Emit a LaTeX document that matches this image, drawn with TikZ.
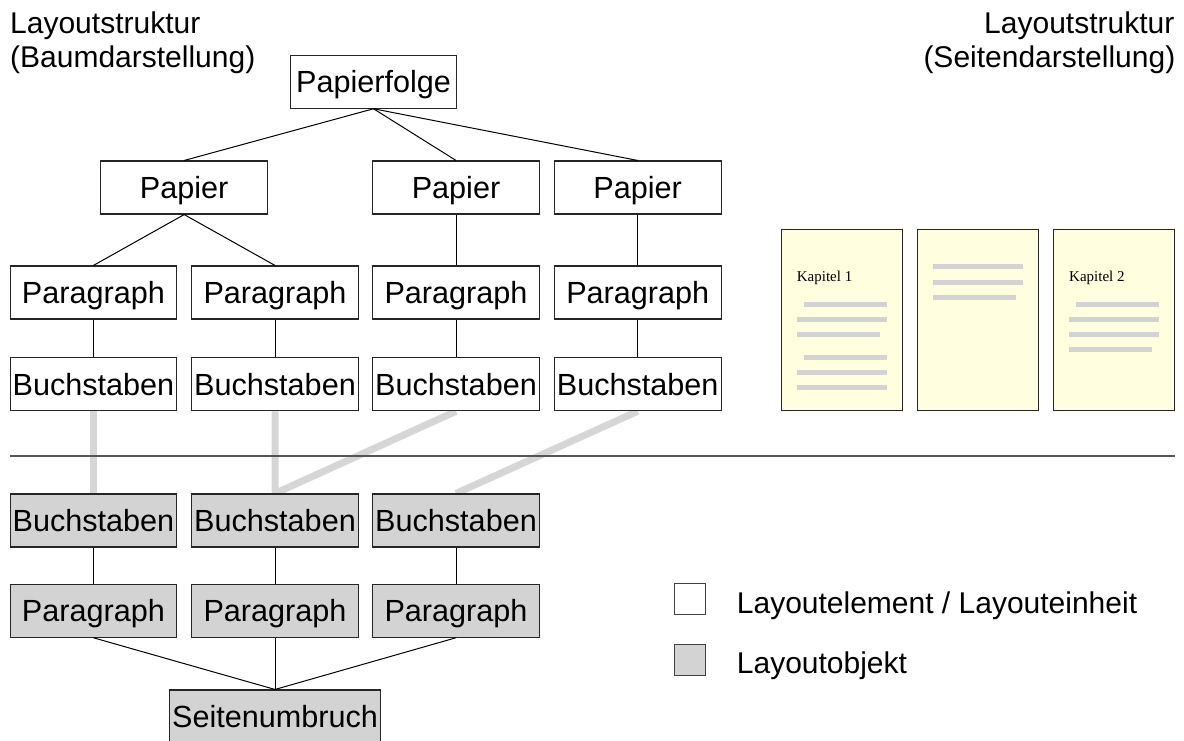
\documentclass[tikz,border=0pt]{standalone}
\usepackage{fontspec}
\setmainfont{Liberation Sans}
\newfontfamily\pageserif{Liberation Serif}
\usetikzlibrary{backgrounds}
\definecolor{boxgray}{HTML}{D3D3D3}
\definecolor{linkgray}{HTML}{D6D6D6}
\definecolor{pageyellow}{HTML}{FFFFE0}
\definecolor{rulegray}{HTML}{555555}
\tikzset{
  unitbox/.style={draw=black!85, line width=1.1pt, minimum width=166.7pt,
    minimum height=53pt, inner sep=0pt, font=\fontsize{30.6}{36}\selectfont,
    text height=21.9pt, text depth=0pt},
  layoutunit/.style={unitbox, fill=white},
  layoutobj/.style={unitbox, fill=boxgray},
  treeline/.style={draw=black, line width=1pt},
  mapline/.style={draw=linkgray, line width=7pt, line join=miter},
  titletext/.style={inner sep=0pt, font=\fontsize{30}{36}\selectfont},
  pagebox/.style={draw=black!85, line width=1.5pt, fill=pageyellow,
    minimum width=121pt, minimum height=181pt, inner sep=0pt},
  textbar/.style={fill=boxgray},
  chapter/.style={inner sep=0pt, font=\pageserif\fontsize{15}{18}\selectfont,
    anchor=base west},
  legendbox/.style={draw=black!75, line width=1pt, minimum width=30.7pt,
    minimum height=30.7pt, inner sep=0pt},
}
\begin{document}
\begin{tikzpicture}[x=1pt, y=-1pt]
\useasboundingbox (0,0) rectangle (1184,740);

% titles
\node[titletext, anchor=base west] (tl1) at (10,33.3) {Layoutstruktur};
\node[titletext, anchor=base west] (tl2) at (10,67) {(Baumdarstellung)};
\node[titletext, anchor=base east] (tr1) at (1174.5,33.3) {Layoutstruktur};
\node[titletext, anchor=base east] (tr2) at (1175.5,67) {(Seitendarstellung)};

% layout tree (upper part)
\node[layoutunit] (pf) at (373.5,81.7) {Papierfolge};
\node[layoutunit] (pa1) at (184.2,187.5) {Papier};
\node[layoutunit] (pa2) at (456,187.5) {Papier};
\node[layoutunit] (pa3) at (637.7,187.5) {Papier};
\node[layoutunit] (pg1) at (93.4,292.5) {Paragraph};
\node[layoutunit] (pg2) at (275,292.5) {Paragraph};
\node[layoutunit] (pg3) at (456,292.5) {Paragraph};
\node[layoutunit] (pg4) at (637.7,292.5) {Paragraph};
\node[layoutunit] (bu1) at (93.4,384.2) {Buchstaben};
\node[layoutunit] (bu2) at (275,384.2) {Buchstaben};
\node[layoutunit] (bu3) at (456,384.2) {Buchstaben};
\node[layoutunit] (bu4) at (637.7,384.2) {Buchstaben};

\draw[treeline] (pf.south) -- (pa1.north);
\draw[treeline] (pf.south) -- (pa2.north);
\draw[treeline] (pf.south) -- (pa3.north);
\draw[treeline] (pa1.south) -- (pg1.north);
\draw[treeline] (pa1.south) -- (pg2.north);
\draw[treeline] (pa2.south) -- (pg3.north);
\draw[treeline] (pa3.south) -- (pg4.north);
\draw[treeline] (pg1.south) -- (bu1.north);
\draw[treeline] (pg2.south) -- (bu2.north);
\draw[treeline] (pg3.south) -- (bu3.north);
\draw[treeline] (pg4.south) -- (bu4.north);

% separator
\coordinate (sepl) at (10,456);
\coordinate (sepr) at (1175,456);
\draw[draw=rulegray, line width=1.3pt] (sepl) -- (sepr);

% layout objects (lower part)
\node[layoutobj] (ob1) at (93.4,520.5) {Buchstaben};
\node[layoutobj] (ob2) at (275,520.5) {Buchstaben};
\node[layoutobj] (ob3) at (456,520.5) {Buchstaben};
\node[layoutobj] (op1) at (93.4,610.7) {Paragraph};
\node[layoutobj] (op2) at (275,610.7) {Paragraph};
\node[layoutobj] (op3) at (456,610.7) {Paragraph};
\node[layoutobj, minimum width=211.7pt] (su) at (275,716.5) {Seitenumbruch};

\draw[treeline] (ob1.south) -- (op1.north);
\draw[treeline] (ob2.south) -- (op2.north);
\draw[treeline] (ob3.south) -- (op3.north);
\draw[treeline] (op1.south) -- (su.north);
\draw[treeline] (op2.south) -- (su.north);
\draw[treeline] (op3.south) -- (su.north);

% mapping between the two structures
\begin{pgfonlayer}{background}
  \draw[mapline] (bu1.south) -- (ob1.north);
  \draw[mapline] (bu2.south) -- (ob2.north) -- (bu3.south);
  \draw[mapline] (bu4.south) -- (ob3.north);
\end{pgfonlayer}

% page view
\node[pagebox] (p1) at (842.2,319.8) {};
\node[pagebox] (p2) at (978.2,319.8) {};
\node[pagebox] (p3) at (1113.8,319.8) {};

\node[chapter] (k1) at (796.7,281.7) {Kapitel 1};
\node[chapter] (k2) at (1069,281.7) {Kapitel 2};

\fill[textbar] (804,302) rectangle (887,307);
\fill[textbar] (796.7,317.2) rectangle (887.3,322.2);
\fill[textbar] (796.7,332.2) rectangle (880,337.2);
\fill[textbar] (804,354.8) rectangle (887,359.8);
\fill[textbar] (796.7,370.2) rectangle (887.3,375.2);
\fill[textbar] (796.7,385.2) rectangle (887.3,390.2);

\fill[textbar] (932.7,264.2) rectangle (1023.3,269.2);
\fill[textbar] (932.7,279.5) rectangle (1023.3,284.5);
\fill[textbar] (932.7,294.5) rectangle (1016,299.5);

\fill[textbar] (1076.3,301.8) rectangle (1159.3,306.8);
\fill[textbar] (1069,317.2) rectangle (1159.3,322.2);
\fill[textbar] (1069,332.2) rectangle (1159.3,337.2);
\fill[textbar] (1069,347.2) rectangle (1152,352.2);

% legend
\node[legendbox, fill=white] (lg1) at (690.3,599.3) {};
\node[legendbox, fill=boxgray] (lg2) at (690.3,660.3) {};
\node[titletext, anchor=base west] (lt1) at (736.7,613.3) {Layoutelement / Layouteinheit};
\node[titletext, anchor=base west] (lt2) at (736.7,673.3) {Layoutobjekt};
\end{tikzpicture}
\end{document}
